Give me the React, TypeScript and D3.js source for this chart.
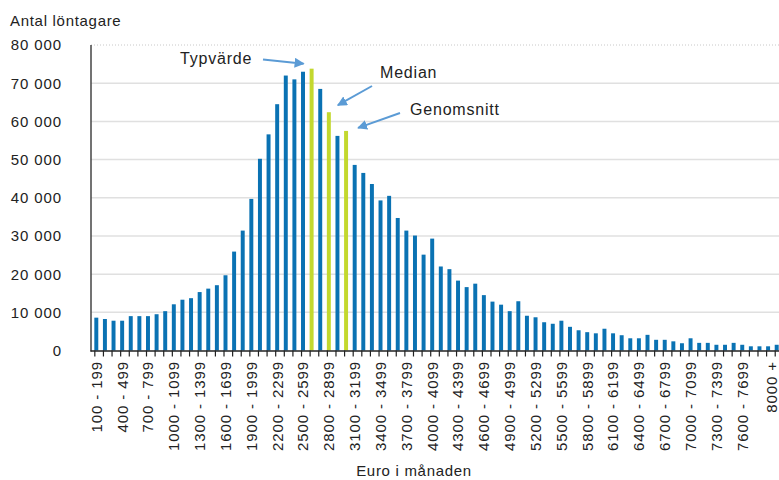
import React, { useEffect, useRef } from 'react';
import * as d3 from 'd3';

const categories = [
  '100 - 199', '200 - 299', '300 - 399', '400 - 499', '500 - 599', '600 - 699', '700 - 799', '800 - 899',
  '900 - 999', '1000 - 1099', '1100 - 1199', '1200 - 1299', '1300 - 1399', '1400 - 1499', '1500 - 1599',
  '1600 - 1699', '1700 - 1799', '1800 - 1899', '1900 - 1999', '2000 - 2099', '2100 - 2199', '2200 - 2299',
  '2300 - 2399', '2400 - 2499', '2500 - 2599', '2600 - 2699', '2700 - 2799', '2800 - 2899', '2900 - 2999',
  '3000 - 3099', '3100 - 3199', '3200 - 3299', '3300 - 3399', '3400 - 3499', '3500 - 3599', '3600 - 3699',
  '3700 - 3799', '3800 - 3899', '3900 - 3999', '4000 - 4099', '4100 - 4199', '4200 - 4299', '4300 - 4399',
  '4400 - 4499', '4500 - 4599', '4600 - 4699', '4700 - 4799', '4800 - 4899', '4900 - 4999', '5000 - 5099',
  '5100 - 5199', '5200 - 5299', '5300 - 5399', '5400 - 5499', '5500 - 5599', '5600 - 5699', '5700 - 5799',
  '5800 - 5899', '5900 - 5999', '6000 - 6099', '6100 - 6199', '6200 - 6299', '6300 - 6399', '6400 - 6499',
  '6500 - 6599', '6600 - 6699', '6700 - 6799', '6800 - 6899', '6900 - 6999', '7000 - 7099', '7100 - 7199',
  '7200 - 7299', '7300 - 7399', '7400 - 7499', '7500 - 7599', '7600 - 7699', '7700 - 7799', '7800 - 7899',
  '7900 - 7999', '8000 +'
];

const employees = [
  8600, 8250, 7800, 7800, 9000, 9000, 9000, 9500, 10300, 12100,
  13300, 13700, 15300, 16200, 17100, 19700, 25900, 31400, 39700, 50200,
  56600, 64500, 72000, 71000, 73000, 73800, 68500, 62400, 56200, 57500,
  48600, 46500, 43600, 39300, 40500, 34700, 31400, 30100, 25100, 29300,
  22000, 21300, 18300, 16600, 17500, 14500, 12800, 12000, 10300, 12900,
  9100, 8700, 7400, 7000, 7800, 6200, 5300, 4800, 4500, 5700,
  4500, 4000, 3200, 3200, 4100, 2800, 2800, 2400, 1900, 3200,
  2000, 2000, 1500, 1500, 2000, 1500, 1100, 1100, 1100, 1500
];

// highlighted bins: mode, median, mean
const highlighted = ['2600 - 2699', '2800 - 2899', '3000 - 3099'];
const annotations = [
  { label: 'Typvärde', category: '2600 - 2699' },
  { label: 'Median', category: '2800 - 2899' },
  { label: 'Genomsnitt', category: '3000 - 3099' }
];
const yTicks = [0, 10000, 20000, 30000, 40000, 50000, 60000, 70000, 80000];
const labelledCategories = categories.filter((c, i) => (i % 3 === 0 && i !== 78) || i === 79);

const FONT = '"Liberation Sans", Arial, sans-serif';

const App = () => {
  const chRef = useRef<SVGSVGElement>(null);

  useEffect(() => {
    const width = 779;
    const left = 92;
    const right = 781;
    const top = 45;
    const bottom = 350.5;

    const svg = d3.select(chRef.current);
    svg.selectAll('*').remove();

    const x = d3.scaleBand().domain(categories).range([left, right]).paddingInner(0.54).paddingOuter(0.27);
    const y = d3.scaleLinear().domain([0, 80000]).range([bottom, top]);

    svg
      .append('defs')
      .append('marker')
      .attr('id', 'arrow')
      .attr('viewBox', '0 0 10 10')
      .attr('refX', 9)
      .attr('refY', 5)
      .attr('markerWidth', 5)
      .attr('markerHeight', 5)
      .attr('orient', 'auto')
      .append('path')
      .attr('d', 'M0,0 L10,5 L0,10 z')
      .attr('fill', '#5b9bd5');

    // grid
    svg
      .selectAll('line.grid')
      .data(yTicks.filter((t) => t > 0))
      .enter()
      .append('line')
      .attr('x1', left - 1)
      .attr('x2', width)
      .attr('y1', (d) => y(d))
      .attr('y2', (d) => y(d))
      .attr('stroke', (d) => (d === 80000 ? '#c8c8c8' : '#e0e0e0'))
      .attr('stroke-width', (d) => (d === 80000 ? 1 : 1.5))
      .attr('stroke-dasharray', (d) => (d === 80000 ? '1,2' : null));

    // y labels
    svg
      .selectAll('text.ylab')
      .data(yTicks)
      .enter()
      .append('text')
      .attr('x', 62)
      .attr('y', (d) => y(d))
      .attr('dy', '0.36em')
      .attr('text-anchor', 'end')
      .style('font-family', FONT)
      .style('font-size', '15px')
      .style('letter-spacing', '0.9px')
      .style('fill', '#222')
      .text((d) => (d === 0 ? '0' : d3.format(',')(d).replace(',', ' ')));

    svg
      .append('text')
      .attr('x', 10)
      .attr('y', 26)
      .style('font-family', FONT)
      .style('font-size', '15px')
      .style('letter-spacing', '0.7px')
      .style('fill', '#222')
      .text('Antal löntagare');

    // bars
    svg
      .selectAll('rect.bar')
      .data(categories)
      .enter()
      .append('rect')
      .attr('x', (d) => x(d) as number)
      .attr('width', x.bandwidth())
      .attr('y', (d, i) => y(employees[i]))
      .attr('height', (d, i) => bottom - y(employees[i]))
      .attr('fill', (d) => (highlighted.includes(d) ? '#c3d82e' : '#0a72b3'));

    // axes
    svg
      .append('line')
      .attr('x1', left - 1)
      .attr('x2', left - 1)
      .attr('y1', top)
      .attr('y2', bottom + 1)
      .attr('stroke', '#444')
      .attr('stroke-width', 1.5);

    svg
      .append('line')
      .attr('x1', left - 1.5)
      .attr('x2', width)
      .attr('y1', bottom + 0.5)
      .attr('y2', bottom + 0.5)
      .attr('stroke', '#222')
      .attr('stroke-width', 1.5);

    svg
      .selectAll('line.tick')
      .data(categories)
      .enter()
      .append('line')
      .attr('x1', (d) => (x(d) as number) + 0.5)
      .attr('x2', (d) => (x(d) as number) + 0.5)
      .attr('y1', bottom)
      .attr('y2', bottom + 6)
      .attr('stroke', '#222')
      .attr('stroke-width', 1.2);

    // last label sits against the right edge, keep its glyphs inside the picture
    const labelX = (d: string) => {
      const cx = (x(d) as number) + x.bandwidth() / 2;
      return Math.min(cx, width - 7);
    };

    svg
      .selectAll('text.xlab')
      .data(labelledCategories)
      .enter()
      .append('text')
      .attr('transform', (d) => `translate(${labelX(d)},361) rotate(-90)`)
      .attr('dy', '0.36em')
      .attr('text-anchor', 'end')
      .style('font-family', FONT)
      .style('font-size', '15px')
      .style('letter-spacing', '0.9px')
      .style('fill', '#222')
      .text((d) => d);

    svg
      .append('text')
      .attr('x', 414)
      .attr('y', 476)
      .attr('text-anchor', 'middle')
      .style('font-family', FONT)
      .style('font-size', '15px')
      .style('letter-spacing', '0.7px')
      .style('fill', '#222')
      .text('Euro i månaden');

    // annotations
    const barTop = (c: string) => y(employees[categories.indexOf(c)]);
    const barMid = (c: string) => (x(c) as number) + x.bandwidth() / 2;
    const annPos = [
      { tx: 180, ty: 64, x1: 263, y1: 59.5, x2: barMid(annotations[0].category) - 8, y2: barTop(annotations[0].category) - 5 },
      { tx: 380, ty: 78, x1: 372, y1: 86, x2: barMid(annotations[1].category) + 9, y2: barTop(annotations[1].category) - 7 },
      { tx: 410, ty: 115, x1: 400, y1: 113, x2: barMid(annotations[2].category) + 12, y2: barTop(annotations[2].category) - 3 }
    ];

    annotations.forEach((a, i) => {
      const p = annPos[i];
      svg
        .append('text')
        .attr('x', p.tx)
        .attr('y', p.ty)
        .style('font-family', FONT)
        .style('font-size', '16px')
        .style('letter-spacing', '0.8px')
        .style('fill', '#222')
        .text(a.label);
      svg
        .append('line')
        .attr('x1', p.x1)
        .attr('y1', p.y1)
        .attr('x2', p.x2)
        .attr('y2', p.y2)
        .attr('stroke', '#5b9bd5')
        .attr('stroke-width', 2)
        .attr('marker-end', 'url(#arrow)');
    });
  }, []);

  return (
    <svg
      ref={chRef}
      width={779}
      height={480}
      style={{ position: 'absolute', left: 0, top: 0, background: '#fff' }}
    />
  );
};

export default App;
